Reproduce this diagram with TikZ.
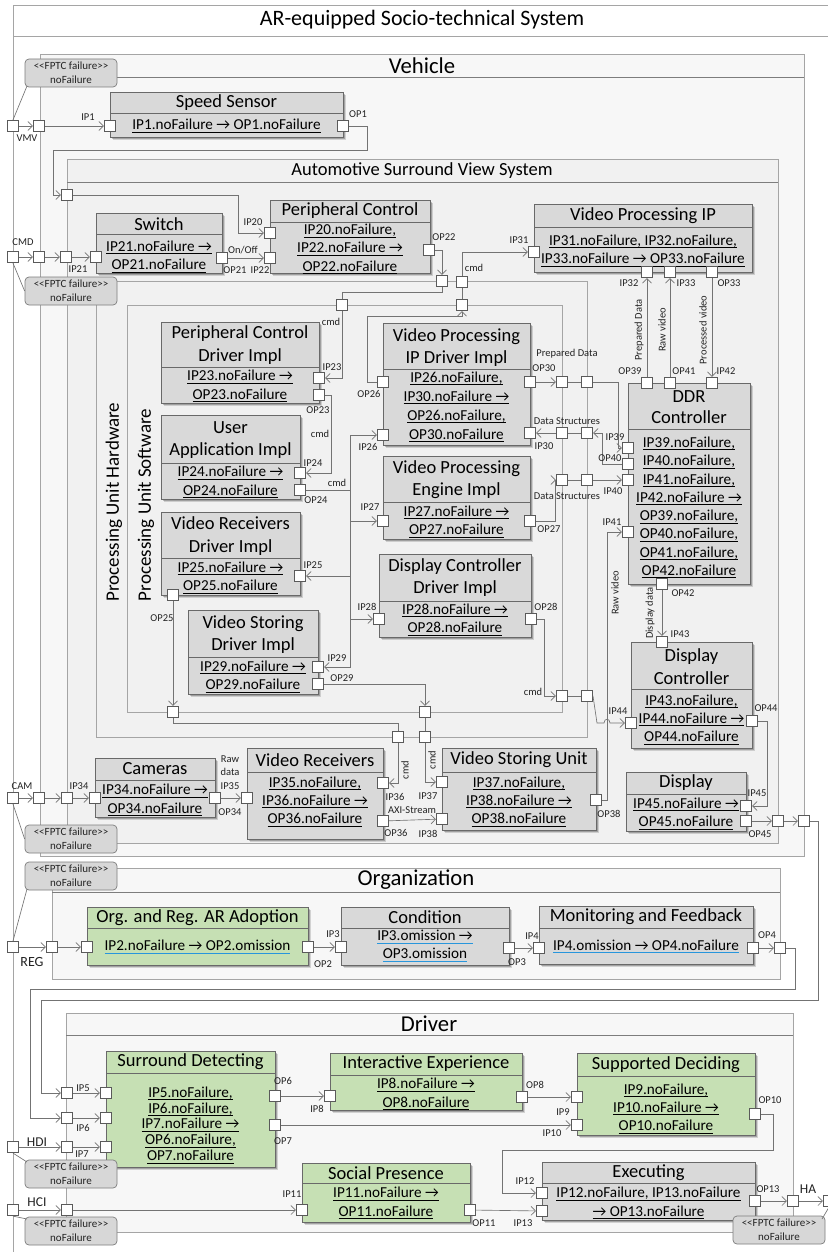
\documentclass[tikz,border=0pt]{standalone}
\usepackage{fontspec}
\setmainfont{Carlito}
\usetikzlibrary{arrows.meta,fit,shadows}
\definecolor{framec}{RGB}{165,165,165}
\definecolor{headc}{RGB}{125,125,125}
\definecolor{framefill}{RGB}{247,247,247}
\definecolor{innerfill}{RGB}{241,241,241}
\definecolor{boxgray}{RGB}{217,217,217}
\definecolor{boxgreen}{RGB}{198,224,180}
\definecolor{boxline}{RGB}{105,105,105}
\definecolor{portline}{RGB}{90,90,90}
\definecolor{wirec}{RGB}{115,115,115}
\definecolor{lab}{RGB}{35,35,35}
\definecolor{ulblue}{RGB}{40,150,220}
\definecolor{fptcfill}{RGB}{215,215,215}
\definecolor{fptcline}{RGB}{125,125,125}
% underlined text with a rule of the text's width
\newsavebox\ulbox
\newcommand\uln[1]{\sbox\ulbox{#1}\rlap{\rule[-2.6pt]{\wd\ulbox}{0.65pt}}\usebox\ulbox}
\newcommand\bul[1]{\sbox\ulbox{#1}\rlap{\textcolor{ulblue}{\rule[-2.8pt]{\wd\ulbox}{0.9pt}}}\usebox\ulbox}
\newcommand\ra{→}
% component box: name, style, x1, y1, x2, y2, y of title separator
\newcommand\mkcomp[7]{\node[#2,fit={(#3,#4) (#5,#6)}] (#1) {};\draw[sepline] (#3,#7) -- (#5,#7);}
\newcommand\prt[3]{\node[port] (#1) at (#2,#3) {};}
\newcommand\plabel[4]{\node[lbl] (#1) at (#2,#3) {#4};}
\newcommand\fptc[3]{\node[fptc] (#1) at (#2,#3) {<{}<FPTC failure>{}>\\noFailure};}
\begin{document}
\begin{tikzpicture}[x=1pt,y=-1pt,
  frame/.style={draw=framec,line width=0.8pt,fill=framefill},
  inner/.style={draw=framec,line width=0.8pt},
  head/.style={draw=headc,line width=0.8pt},
  comp/.style={draw=boxline,line width=0.7pt,fill=boxgray,inner sep=0pt,
     drop shadow={shadow xshift=3.2pt,shadow yshift=-3.2pt,opacity=0.15,fill=black},
     drop shadow={shadow xshift=1.8pt,shadow yshift=-1.8pt,opacity=0.22,fill=black}},
  compg/.style={comp,fill=boxgreen},
  sepline/.style={draw=boxline,line width=0.7pt},
  port/.style={draw=portline,fill=white,line width=0.7pt,minimum size=11.5pt,inner sep=0pt},
  wire/.style={draw=wirec,line width=0.65pt},
  arw/.style={wire,-{Straight Barb[length=4.5pt,width=9pt,line width=0.65pt]}},
  lbl/.style={font=\fontsize{10.5}{12}\selectfont,text=lab,inner sep=0pt},
  big/.style={font=\fontsize{13.5}{15}\selectfont,text=lab,inner sep=0pt},
  ttl/.style={font=\fontsize{18.5}{22.5}\selectfont,align=center,inner sep=0pt},
  bdy/.style={font=\fontsize{15.2}{18.3}\selectfont,align=center,inner sep=0pt},
  ftitle/.style={font=\fontsize{22.7}{26}\selectfont,inner sep=0pt},
  fptc/.style={draw=fptcline,fill=fptcfill,line width=0.7pt,rounded corners=4pt,minimum width=92pt,minimum height=28pt,align=center,inner sep=0pt,font=\fontsize{11}{13.8}\selectfont,text=lab},
]
\useasboundingbox (0,0) rectangle (827,1252);
\fill[white] (0,0) rectangle (827,1252);

% ---------- frames ----------
\draw[draw=framec,line width=0.8pt,fill=white] (13,5) rectangle (836,1262);
\draw[inner] (13,36) -- (836,36);
\node[ftitle,font=\fontsize{22}{26}\selectfont] (sys-t) at (422,20) {AR-equipped Socio-technical System};

\draw[frame] (40,54) rectangle (804,856);
\draw[head] (40,77) -- (804,77);
\node[ftitle] (veh-t) at (422,66) {Vehicle};

\draw[frame,fill=innerfill] (67,159) rectangle (778,843);
\draw[head] (67,182) -- (778,182);
\node[ftitle,font=\fontsize{18.5}{22}\selectfont] (asvs-t) at (422,171) {Automotive Surround View System};

\draw[inner] (96,281) rectangle (587,737);
\draw[inner] (127,305) rectangle (562,712);
\node[ftitle,font=\fontsize{19}{22}\selectfont,rotate=90] (puh-t) at (114,502) {Processing Unit Hardware};
\node[ftitle,font=\fontsize{19}{22}\selectfont,rotate=90] (pus-t) at (146,505) {Processing Unit Software};

\draw[frame] (52,868) rectangle (780,979);
\draw[head] (52,892) -- (780,892);
\node[ftitle] (org-t) at (416,880) {Organization};

\draw[frame] (66,1013) rectangle (793,1232);
\draw[head] (66,1035) -- (793,1035);
\node[ftitle] (drv-t) at (429,1024) {Driver};

% ---------- components ----------
\mkcomp{SS}{comp}{110}{92}{343}{137}{113}
\node[ttl] (SS-t) at (226.5,103) {Speed Sensor};
\node[bdy] (SS-b) at (226.5,126) {\uln{IP1.noFailure \ra{} OP1.noFailure}};

\mkcomp{SW}{comp}{96}{213}{222}{273}{234}
\node[ttl] (SW-t) at (159,224) {Switch};
\node[bdy] (SW-b) at (159,256.5) {\uln{IP21.noFailure \ra}\\\uln{OP21.noFailure}};

\mkcomp{PC}{comp}{270}{200}{430}{273}{222}
\node[ttl] (PC-t) at (350,211) {Peripheral Control};
\node[bdy] (PC-b) at (350,249) {\uln{IP20.noFailure,}\\\uln{IP22.noFailure \ra}\\\uln{OP22.noFailure}};

\mkcomp{VPIP}{comp}{534}{204}{752}{272}{227}
\node[ttl] (VPIP-t) at (643,216) {Video Processing IP};
\node[bdy] (VPIP-b) at (643,250.5) {\uln{IP31.noFailure, IP32.noFailure,}\\\uln{IP33.noFailure \ra{} OP33.noFailure}};

\mkcomp{PCD}{comp}{161}{322}{319}{403}{367}
\node[ttl] (PCD-t) at (240,345) {Peripheral Control\\Driver Impl};
\node[bdy] (PCD-b) at (240,386) {\uln{IP23.noFailure \ra}\\\uln{OP23.noFailure}};

\mkcomp{UA}{comp}{161}{415}{300}{499}{463}
\node[ttl] (UA-t) at (230.5,440) {User\\Application Impl};
\node[bdy] (UA-b) at (230.5,482) {\uln{IP24.noFailure \ra}\\\uln{OP24.noFailure}};

\mkcomp{VRD}{comp}{161}{512}{300}{595}{558}
\node[ttl] (VRD-t) at (230.5,536) {Video Receivers\\Driver Impl};
\node[bdy] (VRD-b) at (230.5,577.5) {\uln{IP25.noFailure \ra}\\\uln{OP25.noFailure}};

\mkcomp{VSD}{comp}{188}{610}{318}{694}{657}
\node[ttl] (VSD-t) at (253,634.5) {Video Storing\\Driver Impl};
\node[bdy] (VSD-b) at (253,676.5) {\uln{IP29.noFailure \ra}\\\uln{OP29.noFailure}};

\mkcomp{VPD}{comp}{383}{323}{530}{445}{369}
\node[ttl] (VPD-t) at (456.5,347.5) {Video Processing\\IP Driver Impl};
\node[bdy,font=\fontsize{15.2}{19}\selectfont] (VPD-b) at (456.5,407) {\uln{IP26.noFailure,}\\\uln{IP30.noFailure \ra}\\\uln{OP26.noFailure,}\\\uln{OP30.noFailure}};

\mkcomp{VPE}{comp}{383}{456}{530}{539}{502}
\node[ttl] (VPE-t) at (456.5,479.5) {Video Processing\\Engine Impl};
\node[bdy] (VPE-b) at (456.5,521.5) {\uln{IP27.noFailure \ra}\\\uln{OP27.noFailure}};

\mkcomp{DCD}{comp}{379}{554}{531}{637}{601}
\node[ttl] (DCD-t) at (455,577.5) {Display Controller\\Driver Impl};
\node[bdy] (DCD-b) at (455,619.5) {\uln{IP28.noFailure \ra}\\\uln{OP28.noFailure}};

\mkcomp{DDR}{comp}{628}{383}{750}{584}{429}
\node[ttl,font=\fontsize{18.5}{21.5}\selectfont] (DDR-t) at (689,407) {DDR\\Controller};
\node[bdy] (DDR-b) at (689,507.5) {\uln{IP39.noFailure,}\\\uln{IP40.noFailure,}\\\uln{IP41.noFailure,}\\\uln{IP42.noFailure \ra}\\\uln{OP39.noFailure,}\\\uln{OP40.noFailure,}\\\uln{OP41.noFailure,}\\\uln{OP42.noFailure}};

\mkcomp{DC}{comp}{631}{642}{752}{748}{689}
\node[ttl] (DC-t) at (691.5,666.5) {Display\\Controller};
\node[bdy] (DC-b) at (691.5,719.5) {\uln{IP43.noFailure,}\\\uln{IP44.noFailure \ra}\\\uln{OP44.noFailure}};

\mkcomp{DSP}{comp}{626}{772}{746}{831}{794}
\node[ttl] (DSP-t) at (686,783) {Display};
\node[bdy] (DSP-b) at (686,813.5) {\uln{IP45.noFailure \ra}\\\uln{OP45.noFailure}};

\mkcomp{VSU}{comp}{442}{748}{596}{830}{772}
\node[ttl] (VSU-t) at (519,760) {Video Storing Unit};
\node[bdy] (VSU-b) at (519,801.5) {\uln{IP37.noFailure,}\\\uln{IP38.noFailure \ra}\\\uln{OP38.noFailure}};

\mkcomp{VR}{comp}{247}{748}{383}{839}{772}
\node[ttl] (VR-t) at (315,760) {Video Receivers};
\node[bdy] (VR-b) at (315,801.5) {\uln{IP35.noFailure,}\\\uln{IP36.noFailure \ra}\\\uln{OP36.noFailure}};

\mkcomp{CAMS}{comp}{95}{758}{215}{817}{780}
\node[ttl] (CAMS-t) at (155,769) {Cameras};
\node[bdy] (CAMS-b) at (155,800) {\uln{IP34.noFailure \ra}\\\uln{OP34.noFailure}};

\mkcomp{ORA}{compg}{87}{907}{308}{965}{928}
\node[ttl] (ORA-t) at (197.5,917.5) {Org. and Reg. AR Adoption};
\node[bdy] (ORA-b) at (197.5,947) {\bul{IP2.noFailure \ra{} OP2.omission}};

\mkcomp{CND}{comp}{341}{907}{509}{965}{928}
\node[ttl] (CND-t) at (425,917.5) {Condition};
\node[bdy] (CND-b) at (425,946) {\bul{IP3.omission \ra}\\\bul{OP3.omission}};

\mkcomp{MF}{comp}{539}{906}{753}{964}{928}
\node[ttl] (MF-t) at (646,917) {Monitoring and Feedback};
\node[bdy] (MF-b) at (646,946.5) {\bul{IP4.omission \ra{} OP4.noFailure}};

\mkcomp{SD}{compg}{106}{1051}{275}{1167}{1073}
\node[ttl] (SD-t) at (190.5,1062) {Surround Detecting};
\node[bdy,font=\fontsize{15.2}{15.9}\selectfont] (SD-b) at (190.5,1125) {\uln{IP5.noFailure,}\\\uln{IP6.noFailure,}\\\uln{IP7.noFailure \ra}\\\uln{OP6.noFailure,}\\\uln{OP7.noFailure}};

\mkcomp{IE}{compg}{330}{1053}{522}{1110}{1075}
\node[ttl] (IE-t) at (426,1064) {Interactive Experience};
\node[bdy] (IE-b) at (426,1094) {\uln{IP8.noFailure \ra}\\\uln{OP8.noFailure}};

\mkcomp{SDC}{compg}{577}{1053}{755}{1135}{1076}
\node[ttl] (SDC-t) at (666,1064.5) {Supported Deciding};
\node[bdy] (SDC-b) at (666,1108.5) {\uln{IP9.noFailure,}\\\uln{IP10.noFailure \ra}\\\uln{OP10.noFailure}};

\mkcomp{SP}{compg}{302}{1163}{470}{1222}{1183}
\node[ttl] (SP-t) at (386,1173) {Social Presence};
\node[bdy] (SP-b) at (386,1203) {\uln{IP11.noFailure \ra}\\\uln{OP11.noFailure}};

\mkcomp{EX}{comp}{542}{1162}{755}{1220}{1183}
\node[ttl] (EX-t) at (648.5,1172.5) {Executing};
\node[bdy] (EX-b) at (648.5,1203) {\uln{IP12.noFailure, IP13.noFailure}\\\uln{\ra{} OP13.noFailure}};

% ---------- FPTC annotations ----------
\fptc{fA}{71}{73}
\fptc{fB}{71}{291}
\fptc{fC}{71}{839}
\fptc{fD}{71}{876}
\fptc{fE}{71}{1174}
\fptc{fF}{71}{1231}
\fptc{fG}{779}{1230}

% ---------- ports ----------
\prt{VMV0}{13}{126}\prt{VMV1}{39}{126}\prt{IP1}{110}{126}\prt{OP1}{343}{126}
\prt{A20}{67}{195}
\prt{CMD0}{13}{257}\prt{CMD1}{39}{257}\prt{CMD2}{66}{257}\prt{IP21}{96}{257}\prt{OP21}{222}{258}
\prt{IP20}{270}{233}\prt{IP22}{270}{258}\prt{OP22}{429}{250}
\prt{Pa}{442}{281}\prt{Pb}{462}{282}\prt{Pc}{342}{305}\prt{Pd}{462}{305}
\prt{IP31}{534}{252}\prt{IP32}{647}{272}\prt{IP33}{670}{272}\prt{OP33}{712}{272}
\prt{OP39}{647}{383}\prt{OP41}{670}{383}\prt{IP42}{712}{383}
\prt{IP23}{319}{378}\prt{OP23}{319}{395}
\prt{IP24}{300}{473}\prt{OP24}{300}{490}
\prt{IP25}{300}{576}\prt{OP25}{173}{595}
\prt{IP29}{318}{667}\prt{OP29}{318}{684}
\prt{OP26}{383}{382}\prt{IP26}{383}{435}\prt{OP30}{530}{382}\prt{IP30}{530}{433}
\prt{Pi}{562}{382}\prt{Pj}{587}{382}\prt{Pl}{562}{433}\prt{Pk}{587}{433}
\prt{IP39}{628}{448}\prt{OP40}{628}{464}\prt{IP40}{628}{480}\prt{IP41}{628}{532}
\prt{IP27}{383}{521}\prt{OP27}{530}{521}
\prt{Pm}{562}{480}\prt{Pn}{587}{480}
\prt{IP28}{379}{619}\prt{OP28}{531}{619}
\prt{Po}{562}{696}\prt{Pp}{587}{696}
\prt{OP42}{662}{584}\prt{IP43}{662}{642}
\prt{IP44}{631}{723}\prt{OP44}{752}{721}
\prt{Pe}{173}{712}\prt{Pg}{425}{712}\prt{Pf}{398}{737}\prt{Ph}{425}{737}
\prt{IP36}{383}{783}\prt{OP36}{383}{821}\prt{IP35}{247}{798}
\prt{IP37}{442}{782}\prt{IP38}{442}{819}\prt{OP38}{596}{800}
\prt{IP45}{746}{806}\prt{OP45}{746}{821}\prt{A45}{778}{821}\prt{V45}{804}{821}
\prt{CAM0}{13}{798}\prt{CAM1}{39}{798}\prt{CAM2}{67}{798}\prt{IP34}{95}{798}\prt{OP34}{215}{798}
\prt{REG0}{13}{947}\prt{REG1}{52}{947}\prt{IP2}{87}{947}\prt{OP2}{308}{947}\prt{IP3}{341}{947}
\prt{OP3}{509}{948}\prt{IP4}{539}{948}\prt{OP4}{753}{948}\prt{O4}{780}{948}
\prt{D5}{67}{1093}\prt{IP5}{106}{1093}\prt{D6}{67}{1118}\prt{IP6}{106}{1118}
\prt{HDI0}{13}{1147}\prt{D7}{67}{1147}\prt{IP7}{106}{1147}
\prt{OP6}{275}{1096}\prt{OP7}{275}{1125}\prt{IP8}{330}{1096}\prt{OP8}{522}{1097}
\prt{IP9}{577}{1097}\prt{IP10}{577}{1125}\prt{OP10}{755}{1114}
\prt{HCI0}{13}{1210}\prt{D11}{67}{1210}\prt{IP11}{302}{1210}\prt{OP11}{470}{1210}
\prt{IP12}{542}{1193}\prt{IP13}{542}{1211}\prt{OP13}{755}{1201}\prt{D13}{793}{1201}\prt{HA0}{829}{1201}

% ---------- FPTC attachment lines ----------
\draw[wire] (VMV0.north) -- (27,86);
\draw[wire] (CMD0.south) -- (fB.west);
\draw[wire] (CAM0.south) -- (fC.west);
\draw[wire] (REG0.north) -- (27,889);
\draw[wire] (HDI0.south) -- (27,1162);
\draw[wire] (HCI0.south) -- (27,1219);
\draw[wire] (HA0.south) -- (822,1219);

% ---------- connectors: vehicle ----------
\draw[arw] (VMV0) -- (VMV1);
\draw[arw] (VMV1) -- (IP1);
\draw[arw] (OP1.east) -- (367,126) -- (367,150) -- (53,150) |- (A20.west);
\draw[arw] (A20.east) -- (238,195) |- (IP20.west);
\draw[arw] (CMD0) -- (CMD1);
\draw[arw] (CMD1) -- (CMD2);
\draw[arw] (CMD2) -- (IP21);
\draw[arw] (OP21) -- (IP22);
\draw[arw] (OP22.east) -| (Pa.north);
\draw[wire] (Pa.south) -- (442,292) -| (Pc.north);
\draw[arw] (Pc.south) |- (IP23.east);
\draw[arw] (OP23.east) -- (331,395) |- (IP24.east);
\draw[wire] (OP24.east) -- (350,490);
\draw[arw] (350,490) |- (IP26.west);
\draw[arw] (350,490) |- (IP27.west);
\draw[arw] (350,490) |- (IP25.east);
\draw[arw] (350,490) |- (IP28.west);
\draw[arw] (350,490) |- (IP29.east);
\draw[arw] (OP26.west) -- (367,382) |- (462,316) -- (Pd.south);
\draw[wire] (Pd.north) -- (Pb.south);
\draw[arw] (Pb.north) |- (IP31.west);
\draw[arw] (OP39) -- (IP32);
\draw[arw] (OP41) -- (IP33);
\draw[arw] (OP33) -- (IP42);
\draw[arw] (OP30) -- (Pi);
\draw[wire] (Pi) -- (Pj);
\draw[arw] (Pj.east) -- (618,382) |- (IP39.west);
\draw[arw] (OP40.west) -- (602,464) |- (Pk.east);
\draw[wire] (Pk) -- (Pl);
\draw[arw] (Pl) -- (IP30);
\draw[arw] (OP27.east) -- (555,521) |- (Pm.west);
\draw[wire] (Pm) -- (Pn);
\draw[arw] (Pn) -- (IP40);
\draw[arw] (OP28.east) -- (544,619) |- (Po.west);
\draw[wire] (Po) -- (Pp);
\draw[arw] (Pp.east) -- (593,696) -- (597,723) -- (604,723) .. controls (604,718) and (610,718) .. (610,723) -- (IP44.west);
\draw[arw] (OP38.east) -- (607,800) |- (IP41.west);
\draw[arw] (OP42) -- (IP43);
\draw[arw] (OP44.east) -- (767,721) |- (IP45.east);
\draw[arw] (OP45) -- (A45);
\draw[arw] (A45) -- (V45);
\draw[arw] (V45.east) -- (818,821) -- (818,1000) -- (41,1000) |- (D5.west);
\draw[arw] (D5) -- (IP5);
\draw[arw] (OP25) -- (Pe);
\draw[wire] (Pe.south) -- (173,723) -| (Pf.north);
\draw[arw] (Pf.south) |- (IP36.east);
\draw[arw] (OP29.east) -| (Pg.north);
\draw[wire] (Pg) -- (Ph);
\draw[arw] (Ph.south) |- (IP37.west);
\draw[arw] (OP36) -- (IP38);
\draw[arw] (CAM0) -- (CAM1);
\draw[arw] (CAM1) -- (CAM2);
\draw[arw] (CAM2) -- (IP34);
\draw[arw] (OP34) -- (IP35);

% ---------- connectors: organization ----------
\draw[arw] (REG0) -- (REG1);
\draw[arw] (REG1) -- (IP2);
\draw[arw] (OP2) -- (IP3);
\draw[arw] (OP3) -- (IP4);
\draw[arw] (OP4) -- (O4);
\draw[arw] (O4.east) -- (795,948) -- (795,989) -- (30,989) |- (D6.west);
\draw[arw] (D6) -- (IP6);

% ---------- connectors: driver ----------
\draw[arw] (HDI0) -- (D7);
\draw[arw] (D7) -- (IP7);
\draw[arw] (OP6) -- (IP8);
\draw[arw] (OP7) -- (IP10);
\draw[arw] (OP8) -- (IP9);
\draw[arw] (OP10.east) -- (773,1114) -- (773,1150) -- (502,1150) |- (IP12.west);
\draw[arw] (HCI0) -- (D11);
\draw[arw] (D11) -- (IP11);
\draw[arw] (OP11) -- (IP13);
\draw[arw] (OP13) -- (D13);
\draw[arw] (D13) -- (HA0);

% ---------- port and flow labels ----------
\plabel{lVMV}{27}{138}{VMV}
\plabel{lIP1}{88}{117}{IP1}
\plabel{lOP1}{358}{114}{OP1}
\plabel{lCMD}{23}{242}{CMD}
\plabel{lIP21}{78}{269}{IP21}
\plabel{lIP20}{253}{222}{IP20}
\plabel{lOnOff}{243}{250}{On/Off}
\plabel{lOP21}{235}{270}{OP21}
\plabel{lIP22}{260}{270}{IP22}
\plabel{lOP22}{444}{237}{OP22}
\plabel{lcmdA}{474}{268}{cmd}
\plabel{lIP31}{519}{240}{IP31}
\plabel{lIP32}{629}{283}{IP32}
\plabel{lIP33}{686}{283}{IP33}
\plabel{lOP33}{729}{283}{OP33}
\plabel{lOP39}{630}{371}{OP39}
\plabel{lOP41}{684}{371}{OP41}
\plabel{lIP42}{726}{371}{IP42}
\node[lbl,rotate=90] (lPD1) at (639,330) {Prepared Data};
\node[lbl,rotate=90] (lRV1) at (662,330) {Raw video};
\node[lbl,rotate=90] (lPV) at (703,330) {Processed video};
\plabel{lcmdB}{331}{322}{cmd}
\plabel{lIP23}{332}{367}{IP23}
\plabel{lOP23}{318}{410}{OP23}
\plabel{lcmdC}{320}{434}{cmd}
\plabel{lIP24}{313}{463}{IP24}
\plabel{lOP24}{316}{500}{OP24}
\plabel{lcmdD}{337}{483}{cmd}
\plabel{lOP26}{369}{394}{OP26}
\plabel{lIP26}{368}{447}{IP26}
\plabel{lPD2}{567}{354}{Prepared Data}
\plabel{lOP30}{544}{368}{OP30}
\plabel{lDS1}{567}{421}{Data Structures}
\plabel{lIP30}{544}{446}{IP30}
\plabel{lIP39}{615}{437}{IP39}
\plabel{lOP40}{610}{458}{OP40}
\plabel{lIP27}{370}{507}{IP27}
\plabel{lDS2}{567}{496}{Data Structures}
\plabel{lIP40}{613}{491}{IP40}
\plabel{lOP27}{549}{529}{OP27}
\plabel{lIP25}{313}{565}{IP25}
\plabel{lIP41}{612}{522}{IP41}
\node[lbl,rotate=90] (lRV2) at (615,593) {Raw video};
\plabel{lOP42}{683}{593}{OP42}
\node[lbl,rotate=90] (lDD) at (650,613) {Display data};
\plabel{lIP43}{680}{634}{IP43}
\plabel{lIP28}{367}{607}{IP28}
\plabel{lOP28}{546}{607}{OP28}
\plabel{lOP25}{162}{618}{OP25}
\plabel{lIP29}{337}{658}{IP29}
\plabel{lOP29}{342}{678}{OP29}
\plabel{lcmdE}{533}{692}{cmd}
\plabel{lIP44}{618}{711}{IP44}
\plabel{lOP44}{766}{708}{OP44}
\node[lbl,rotate=90] (lcmdF) at (405,770) {cmd};
\node[lbl,rotate=90] (lcmdG) at (432,760) {cmd};
\plabel{lRaw}{230}{759}{Raw}
\plabel{ldata}{230}{772}{data}
\plabel{lIP35}{230}{786}{IP35}
\plabel{lOP34}{230}{812}{OP34}
\plabel{lIP34}{79}{786}{IP34}
\plabel{lCAM}{22}{786}{CAM}
\plabel{lIP36}{395}{797}{IP36}
\plabel{lAXI}{412}{810}{AXI-Stream}
\plabel{lOP36}{396}{833}{OP36}
\plabel{lIP37}{428}{796}{IP37}
\plabel{lIP38}{428}{834}{IP38}
\plabel{lOP38}{609}{814}{OP38}
\plabel{lIP45}{757}{793}{IP45}
\plabel{lOP45}{760}{834}{OP45}
\node[big,font=\fontsize{14}{16}\selectfont] (lREG) at (32,962) {REG};
\plabel{lIP3}{333}{934}{IP3}
\plabel{lOP2}{323}{964}{OP2}
\plabel{lIP4}{532}{936}{IP4}
\plabel{lOP3}{517}{962}{OP3}
\plabel{lOP4}{767}{935}{OP4}
\plabel{lIP5}{83}{1088}{IP5}
\plabel{lIP6}{83}{1128}{IP6}
\node[big] (lHDI) at (37,1142) {HDI};
\plabel{lIP7}{82}{1154}{IP7}
\plabel{lOP6}{283}{1081}{OP6}
\plabel{lIP8}{317}{1109}{IP8}
\plabel{lOP7}{283}{1141}{OP7}
\plabel{lOP8}{535}{1085}{OP8}
\plabel{lIP9}{563}{1112}{IP9}
\plabel{lIP10}{552}{1133}{IP10}
\plabel{lOP10}{770}{1100}{OP10}
\node[big] (lHCI) at (37,1202) {HCI};
\plabel{lIP11}{292}{1194}{IP11}
\plabel{lOP11}{484}{1223}{OP11}
\plabel{lIP12}{525}{1181}{IP12}
\plabel{lIP13}{523}{1223}{IP13}
\plabel{lOP13}{768}{1189}{OP13}
\node[big] (lHA) at (808,1189) {HA};
\end{tikzpicture}
\end{document}
